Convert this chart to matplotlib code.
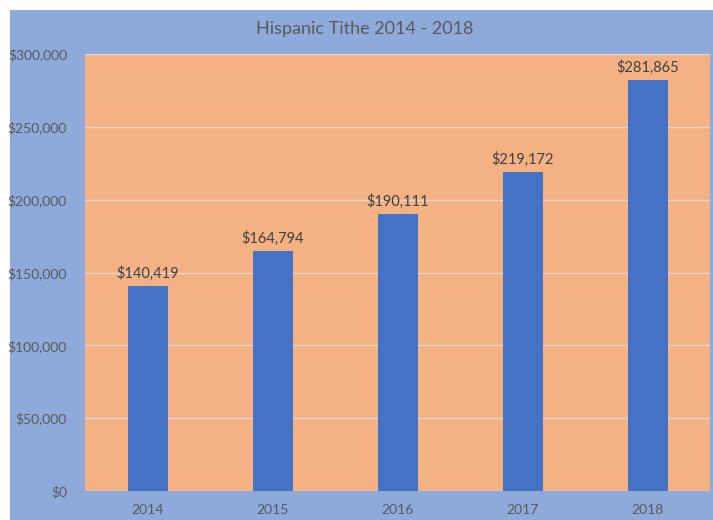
import matplotlib.pyplot as plt
from matplotlib.patches import Rectangle
from matplotlib.ticker import FuncFormatter

years = ['2014', '2015', '2016', '2017', '2018']
tithe = [140419, 164794, 190111, 219172, 281865]

plt.rcParams['font.family'] = ['Lato', 'DejaVu Sans']

fig = plt.figure(figsize=(7.13, 5.2), dpi=100, facecolor='white')
# blue chart area, white border on top and left
fig.patches.append(Rectangle((10 / 713, 0), 1, 1 - 10 / 520, transform=fig.transFigure,
                             facecolor='#8eaadb', edgecolor='none', zorder=-10))

ax = fig.add_axes([85 / 713, 29 / 520, 625 / 713, 437 / 520])
ax.set_facecolor('#f4b183')

x = range(len(years))
ax.bar(x, tithe, width=0.32, color='#4472c4', zorder=3)
for i, v in zip(x, tithe):
    ax.text(i, v + 3500, '${:,}'.format(v), ha='center', va='bottom',
            fontsize=10.5, color='#404040')

ax.set_xlim(-0.5, 4.5)
ax.set_ylim(0, 300000)
ax.set_yticks(range(0, 300001, 50000))
ax.yaxis.set_major_formatter(FuncFormatter(lambda v, p: '${:,.0f}'.format(v)))
ax.set_xticks(list(x))
ax.set_xticklabels(years)
ax.tick_params(length=0, labelsize=10, labelcolor='#595959')
ax.tick_params(axis='y', pad=13)
ax.tick_params(axis='x', pad=9)
ax.grid(axis='y', color='#e2d8d0', linewidth=1, zorder=1)
for s in ax.spines.values():
    s.set_visible(False)

fig.text(365 / 713, 1 - 29 / 520, 'Hispanic Tithe 2014 - 2018', ha='center', va='center',
         fontsize=13, color='#595959')

fig.savefig('out.png', dpi=100)
